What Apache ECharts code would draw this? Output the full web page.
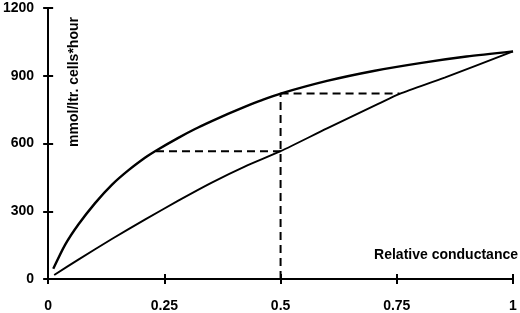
<!DOCTYPE html>
<html>
<head>
<meta charset="utf-8">
<script src="https://cdn.jsdelivr.net/npm/echarts@6/dist/echarts.min.js"></script>
<style>
  html, body { margin: 0; padding: 0; background: #fff; }
  #chart { width: 520px; height: 313px; }
</style>
</head>
<body>
<div id="chart"></div>
<script>
// values
var upperCurve = [
    [0.011, 45], [0.037, 153], [0.065, 241], [0.101, 336], [0.137, 417],
    [0.173, 482], [0.209, 538], [0.230, 566], [0.280, 625], [0.316, 664],
    [0.352, 699], [0.388, 732], [0.424, 763], [0.460, 792], [0.5, 821],
    [0.6, 877], [0.7, 921], [0.8, 956], [0.9, 985], [1.0, 1008]
];
var lowerCurve = [
    [0.013, 18], [0.065, 86], [0.137, 177], [0.209, 264], [0.280, 347],
    [0.352, 427], [0.424, 499], [0.5, 566], [0.6, 667], [0.71, 775],
    [0.756, 820], [0.853, 892], [1.0, 1008]
];
var dashLow = [[0.232, 566], [0.5, 566]];
var dashVert = [[0.5, 0], [0.5, 821]];
var dashHigh = [[0.5, 821], [0.756, 821]];
var xTicks = [0, 0.25, 0.5, 0.75, 1];
var yTicks = [0, 300, 600, 900, 1200];

var chart = echarts.init(document.getElementById('chart'));

var font = 'Liberation Sans, Arial, sans-serif';

function dashed(d) {
    return {
        type: 'line',
        data: d,
        symbol: 'none',
        silent: true,
        lineStyle: { color: '#000', width: 2, type: [8, 5] }
    };
}

// ticks cross the axis: one axis draws them outside, a twin draws them inside
var option = {
    animation: false,
    grid: { left: 48, right: 7, top: 8, bottom: 32 },
    xAxis: [
        {
            type: 'value', min: 0, max: 1, interval: 0.25,
            axisLine: { show: true, onZero: false, lineStyle: { color: '#000', width: 2 } },
            axisTick: { show: true, length: 5, lineStyle: { color: '#000', width: 2 } },
            axisLabel: {
                margin: 20, color: '#000', fontFamily: font, fontWeight: 'bold', fontSize: 14,
                formatter: function (v) { return xTicks.indexOf(v) >= 0 ? String(v) : ''; }
            },
            splitLine: { show: false }
        },
        {
            type: 'value', min: 0, max: 1, interval: 0.25, position: 'bottom',
            axisLine: { show: false, onZero: false },
            axisTick: { show: true, inside: true, length: 5, lineStyle: { color: '#000', width: 2 } },
            axisLabel: { show: false },
            splitLine: { show: false }
        }
    ],
    yAxis: [
        {
            type: 'value', min: 0, max: 1200, interval: 300,
            axisLine: { show: true, onZero: false, lineStyle: { color: '#000', width: 2 } },
            axisTick: { show: true, length: 5, lineStyle: { color: '#000', width: 2 } },
            axisLabel: {
                margin: 14, color: '#000', fontFamily: font, fontWeight: 'bold', fontSize: 14,
                formatter: function (v) { return yTicks.indexOf(v) >= 0 ? String(v) : ''; }
            },
            splitLine: { show: false }
        },
        {
            type: 'value', min: 0, max: 1200, interval: 300, position: 'left',
            axisLine: { show: false, onZero: false },
            axisTick: { show: true, inside: true, length: 5, lineStyle: { color: '#000', width: 2 } },
            axisLabel: { show: false },
            splitLine: { show: false }
        }
    ],
    graphic: [
        {
            type: 'text', x: 74, y: 82, rotation: Math.PI / 2,
            style: {
                text: 'mmol/ltr. cells*hour', fill: '#000',
                font: 'bold 14px ' + font, align: 'center', verticalAlign: 'middle'
            }
        },
        {
            type: 'text', x: 518, y: 255,
            style: {
                text: 'Relative conductance', fill: '#000',
                font: 'bold 14px ' + font, align: 'right', verticalAlign: 'middle'
            }
        }
    ],
    series: [
        {
            type: 'line', data: upperCurve, smooth: 0.25, symbol: 'none',
            lineStyle: { color: '#000', width: 2.4 }
        },
        {
            type: 'line', data: lowerCurve, smooth: 0.25, symbol: 'none',
            lineStyle: { color: '#000', width: 1.9 }
        },
        dashed(dashLow),
        dashed(dashVert),
        dashed(dashHigh)
    ]
};

chart.setOption(option);
</script>
</body>
</html>
